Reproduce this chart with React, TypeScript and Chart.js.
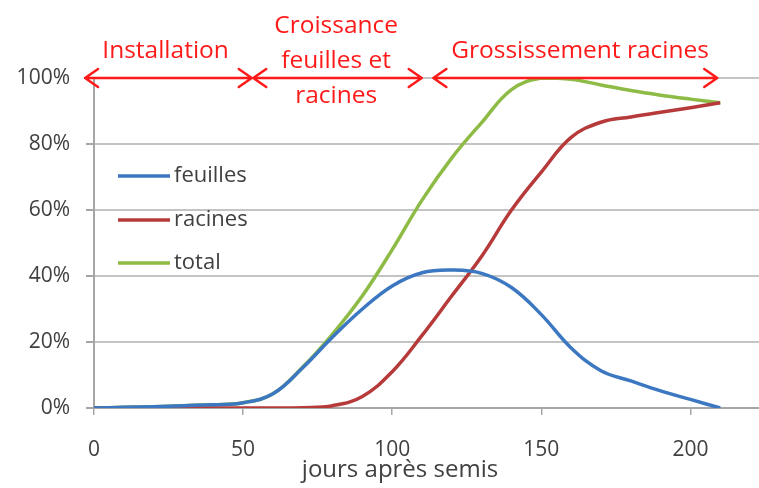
import React, { useEffect, useRef } from 'react';
import { Chart, registerables } from 'chart.js';

Chart.register(...registerables);

// ---- data ----
const days = [0, 10, 20, 30, 40, 50, 60, 70, 80, 90, 100, 110, 120, 130, 140, 150, 160, 170, 180, 190, 200, 210];
const feuilles = [0, 0.2, 0.4, 0.7, 1.0, 1.6, 4.3, 12.2, 21.5, 30, 37, 41, 41.8, 40.8, 36.5, 28.3, 18.2, 11.3, 8.2, 5.2, 2.6, 0];
const racines = [0, 0, 0, 0, 0, 0, 0, 0.1, 0.7, 3.5, 11, 22, 34, 46, 60, 71.5, 82, 86.6, 88.2, 89.6, 91, 92.5];
const total = [0, 0.2, 0.4, 0.7, 1.0, 1.6, 4.3, 12.4, 22.4, 34, 48, 63, 75.8, 86.5, 96.5, 100, 99.6, 97.9, 96.2, 94.8, 93.6, 92.5];
const seriesNames = ['feuilles', 'racines', 'total'];
const yTicks = [0, 20, 40, 60, 80, 100];
const xTicks = [0, 50, 100, 150, 200];
const xAxisTitle = 'jours après semis';

// phases (annotation arrows), in days
const phaseLabels = [['Installation'], ['Croissance', 'feuilles et', 'racines'], ['Grossissement racines']];
const phaseStart = [-3, 53.4, 113.8];
const phaseEnd = [52.9, 109.9, 209];
const phaseTextAt = [24, 81.2, 163];

const colors = ['#3c77c2', '#b73a3a', '#8dbb45'];
const FONT = '"Open Sans", "DejaVu Sans", sans-serif';
const TEXT = '#404040';
const RED = '#ff1a1a';

const overlayPlugin = {
  id: 'overlay',
  afterDatasetsDraw(chart: any) {
    const ctx = chart.ctx;
    const xs = chart.scales.x;
    const ys = chart.scales.y;
    const area = chart.chartArea;
    const yArrow = ys.getPixelForValue(100);

    // arrows
    ctx.save();
    ctx.strokeStyle = RED;
    ctx.fillStyle = RED;
    ctx.lineWidth = 2.5;
    ctx.lineCap = 'round';
    ctx.lineJoin = 'round';
    for (let i = 0; i < phaseLabels.length; i++) {
      const x1 = xs.getPixelForValue(phaseStart[i]);
      const x2 = xs.getPixelForValue(phaseEnd[i]);
      ctx.beginPath();
      ctx.moveTo(x1, yArrow);
      ctx.lineTo(x2, yArrow);
      ctx.moveTo(x1 + 13, yArrow - 9);
      ctx.lineTo(x1, yArrow);
      ctx.lineTo(x1 + 13, yArrow + 9);
      ctx.moveTo(x2 - 13, yArrow - 9);
      ctx.lineTo(x2, yArrow);
      ctx.lineTo(x2 - 13, yArrow + 9);
      ctx.stroke();

      const cx = xs.getPixelForValue(phaseTextAt[i]);
      ctx.font = `24.5px ${FONT}`;
      ctx.textAlign = 'center';
      ctx.textBaseline = 'middle';
      const lines = phaseLabels[i];
      if (lines.length === 1) {
        ctx.fillText(lines[0], cx, yArrow - 27);
      } else {
        const offs = [-52, -17, 18];
        lines.forEach((l, k) => ctx.fillText(l, cx, yArrow + offs[k]));
      }
    }
    ctx.restore();

    // legend
    ctx.save();
    ctx.font = `22px ${FONT}`;
    ctx.textAlign = 'left';
    ctx.textBaseline = 'middle';
    const legY = [176, 220, 263];
    for (let i = 0; i < seriesNames.length; i++) {
      const y = legY[i];
      ctx.strokeStyle = colors[i];
      ctx.lineWidth = 3.5;
      ctx.beginPath();
      ctx.moveTo(area.left + 24, y);
      ctx.lineTo(area.left + 76, y);
      ctx.stroke();
      ctx.fillStyle = TEXT;
      ctx.fillText(seriesNames[i], area.left + 80, y);
    }
    ctx.restore();

    // x axis title
    ctx.save();
    ctx.font = `24px ${FONT}`;
    ctx.fillStyle = TEXT;
    ctx.textAlign = 'center';
    ctx.textBaseline = 'alphabetic';
    ctx.fillText(xAxisTitle, area.left + 306, 477);
    ctx.restore();
  },
};

export default function App() {
  const ref = useRef<HTMLCanvasElement | null>(null);

  useEffect(() => {
    if (!ref.current) return;
    const series = [feuilles, racines, total];
    const chart = new Chart(ref.current, {
      type: 'line',
      data: {
        datasets: series.map((s, i) => ({
          label: seriesNames[i],
          data: days.map((d, k) => ({ x: d, y: s[k] })),
          borderColor: colors[i],
          backgroundColor: colors[i],
          borderWidth: 3.5,
          pointRadius: 0,
          tension: 0.4,
          fill: false,
        })),
      },
      options: {
        responsive: false,
        animation: false,
        layout: { padding: { top: 78, left: 0, right: 0, bottom: 0 } },
        plugins: {
          legend: { display: false },
          tooltip: { enabled: false },
          title: { display: false },
        },
        scales: {
          x: {
            type: 'linear',
            min: 0,
            max: 223,
            afterFit: (s: any) => { s.height = 80; },
            afterBuildTicks: (s: any) => { s.ticks = xTicks.map((v) => ({ value: v })); },
            ticks: {
              includeBounds: false,
              stepSize: 50,
              color: TEXT,
              font: { family: FONT, size: 21 },
              padding: 22,
              maxRotation: 0,
            },
            grid: {
              drawOnChartArea: false,
              drawTicks: true,
              tickLength: 7,
              tickColor: '#a6a6a6',
              lineWidth: 1.5,
            },
            border: { display: true, color: '#a6a6a6', width: 2 },
          },
          y: {
            min: 0,
            max: 100,
            afterFit: (s: any) => { s.width = 94; },
            afterBuildTicks: (s: any) => { s.ticks = yTicks.map((v) => ({ value: v })); },
            ticks: {
              stepSize: 20,
              color: TEXT,
              font: { family: FONT, size: 21 },
              padding: 16,
              callback: (v: any) => `${v}%`,
            },
            grid: {
              color: '#c4c4c4',
              lineWidth: 2,
              drawTicks: true,
              tickLength: 8,
              tickColor: '#a6a6a6',
            },
            border: { display: true, color: '#a6a6a6', width: 2 },
          },
        },
      },
      plugins: [overlayPlugin],
    });
    return () => chart.destroy();
  }, []);

  return (
    <div style={{ position: 'absolute', left: 0, top: 0, width: 759, height: 488, background: '#fff' }}>
      <canvas ref={ref} width={759} height={488} style={{ display: 'block' }} />
    </div>
  );
}
